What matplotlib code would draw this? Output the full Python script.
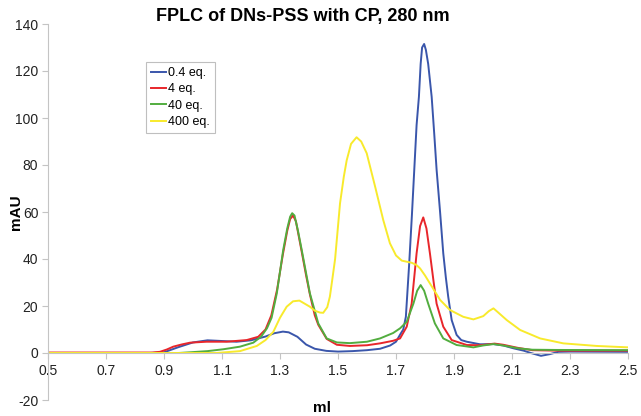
import matplotlib
matplotlib.use("Agg")
import matplotlib.pyplot as plt

plt.rcParams['font.family'] = ['Liberation Sans', 'DejaVu Sans']

title = "FPLC of DNs-PSS with CP, 280 nm"
x_label = "ml"
y_label = "mAU"
series_labels = ["0.4 eq.", "4 eq.", "40 eq.", "400 eq."]
series_colors = ["#3a56ab", "#e8262b", "#52ad3f", "#f8ea2c"]

x_ticks = [0.5, 0.7, 0.9, 1.1, 1.3, 1.5, 1.7, 1.9, 2.1, 2.3, 2.5]
y_ticks = [-20, 0, 20, 40, 60, 80, 100, 120, 140]

blue_x = [0.5, 0.85, 0.9, 0.95, 1.0, 1.05, 1.1, 1.15, 1.2, 1.25, 1.28, 1.31, 1.33, 1.36,
          1.39, 1.42, 1.46, 1.5, 1.55, 1.6, 1.645, 1.68, 1.70, 1.715, 1.725, 1.734, 1.745,
          1.755, 1.763, 1.771, 1.779, 1.785, 1.79, 1.797, 1.803, 1.811, 1.823, 1.832, 1.840,
          1.852, 1.863, 1.872, 1.880, 1.892, 1.909, 1.925, 1.944, 1.99, 2.036, 2.07, 2.105,
          2.14, 2.165, 2.2, 2.23, 2.26, 2.3, 2.5]
blue_y = [0, 0, 0.3, 2.5, 4.5, 5.4, 5.1, 4.8, 5.4, 7, 8.4, 9.1, 8.8, 6.9,
          3.6, 1.8, 0.9, 0.6, 0.8, 1.2, 1.8, 3.2, 4.8, 8, 10, 15.4, 37,
          59, 78, 97, 109, 123, 130, 131.5, 129, 123, 109, 93, 78,
          60, 42.4, 32, 24, 14, 7.7, 5.5, 4.8, 3.7, 3.8, 3.2, 2,
          1, 0, -1.2, -0.5, 0.5, 0.6, 0.5]

red_x = [0.5, 0.86, 0.886, 0.91, 0.932, 0.96, 0.99, 1.047, 1.116, 1.185, 1.225, 1.25, 1.27,
         1.29, 1.31, 1.325, 1.335, 1.345, 1.355, 1.375, 1.39, 1.403, 1.42, 1.432, 1.461,
         1.496, 1.541, 1.6, 1.645, 1.69, 1.714, 1.737, 1.754, 1.771, 1.783, 1.794, 1.805,
         1.817, 1.83, 1.840, 1.863, 1.892, 1.944, 1.99, 2.04, 2.07, 2.12, 2.17, 2.25, 2.5]
red_y = [0.2, 0.2, 0.5, 1.5, 2.7, 3.6, 4.4, 4.8, 4.8, 5.5, 6.9, 10, 16,
         27, 42, 52, 57, 58.5, 56, 43, 33, 25, 16, 12, 6,
         3.5, 3, 3.3, 4.1, 5.2, 6.2, 11.2, 21, 42.4, 54, 57.7, 53,
         42.4, 30, 21, 11.2, 5.5, 3.4, 3.3, 4.0, 3.5, 2.2, 1.2, 1.0, 1.0]

green_x = [0.5, 0.95, 0.99, 1.05, 1.105, 1.162, 1.208, 1.235, 1.255, 1.271, 1.289, 1.311,
           1.325, 1.335, 1.342, 1.35, 1.362, 1.375, 1.403, 1.432, 1.461, 1.496, 1.541, 1.6,
           1.645, 1.69, 1.714, 1.737, 1.760, 1.773, 1.785, 1.797, 1.811, 1.834, 1.863, 1.909,
           1.967, 2.0, 2.036, 2.07, 2.12, 2.17, 2.25, 2.5]
green_y = [0, 0, 0.3, 0.8, 1.6, 2.7, 4.4, 7, 10.5, 15, 25.4, 43.8,
           53, 58, 59.5, 58.5, 52, 43.8, 25.4, 12.6, 6.2, 4.5, 4.2, 4.8,
           6.2, 8.5, 10.5, 13.3, 21, 26.5, 28.9, 26.5, 21, 12.6, 6.2, 3.4,
           2.4, 3.2, 3.8, 3.2, 2, 1.4, 1.3, 1.2]

yellow_x = [0.5, 1.08, 1.162, 1.22, 1.25, 1.277, 1.30, 1.323, 1.345, 1.367, 1.385, 1.403,
            1.42, 1.438, 1.449, 1.463, 1.472, 1.480, 1.490, 1.507, 1.52, 1.530, 1.545, 1.564,
            1.58, 1.599, 1.628, 1.656, 1.679, 1.70, 1.720, 1.754, 1.770, 1.783, 1.80, 1.817,
            1.852, 1.886, 1.932, 1.967, 2.001, 2.02, 2.036, 2.05, 2.082, 2.128, 2.197, 2.277,
            2.392, 2.5]
yellow_y = [0, 0, 0.8, 3, 5.5, 9, 15, 19.7, 22, 22.3, 21, 19.7,
            18, 17.2, 17.1, 19.5, 24, 31, 40, 63.7, 75, 82, 89, 91.8,
            90, 85, 70.8, 56.6, 46.7, 41.5, 39.3, 38.4, 37.5, 36, 33, 29.6,
            22.6, 18.3, 15.4, 14.3, 15.7, 17.8, 19, 17.5, 14, 9.8, 6.2, 4.1,
            3, 2.4]

fig = plt.figure(figsize=(6.41, 4.16), dpi=100)
ax = fig.add_axes([48/641, 1-400/416, 580/641, 376/416])

all_x = [blue_x, red_x, green_x, yellow_x]
all_y = [blue_y, red_y, green_y, yellow_y]
for xs, ys, lab, col in zip(all_x, all_y, series_labels, series_colors):
    ax.plot(xs, ys, color=col, lw=1.4, label=lab, solid_joinstyle='round')

ax.set_xlim(0.5, 2.5)
ax.set_ylim(-20, 140)
ax.set_xticks(x_ticks)
ax.set_xticklabels([f"{v:.1f}" for v in x_ticks])
ax.set_yticks(y_ticks)
ax.set_yticklabels([str(v) for v in y_ticks])

for s in ['top', 'right']:
    ax.spines[s].set_visible(False)
ax.spines['bottom'].set_position(('data', 0))
ax.spines['bottom'].set_color('#c4c4c4')
ax.spines['left'].set_color('#c4c4c4')
ax.tick_params(axis='both', colors='#c4c4c4', labelcolor='#222222', labelsize=10, length=4, width=0.8)
ax.tick_params(axis='x', pad=4)
ax.tick_params(axis='y', pad=3)

ax.set_xlabel(x_label, fontsize=11, fontweight='bold')
ax.xaxis.set_label_coords(0.472, -0.003)
fig.text(16/641, 1-212/416, y_label, rotation=90, ha='center', va='center',
         fontsize=11, fontweight='bold')
fig.text(303/641, 1-17/416, title, ha='center', va='center', fontsize=13, fontweight='bold')

leg = ax.legend(loc='upper left', bbox_to_anchor=((146-48)/580, (400-62)/376), borderaxespad=0,
                fontsize=9, frameon=True, fancybox=False, handlelength=1.2, handletextpad=0.2,
                labelspacing=0.35, borderpad=0.4)
leg.get_frame().set_edgecolor('#b0b0b0')
leg.get_frame().set_linewidth(0.8)

fig.savefig("out.png", dpi=100)
